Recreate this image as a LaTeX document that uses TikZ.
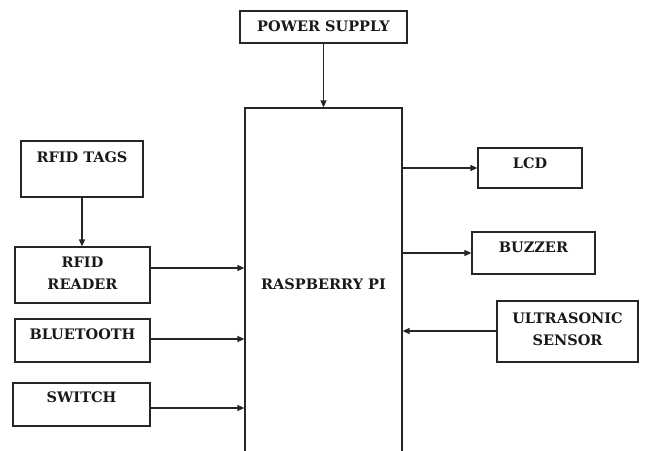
\documentclass[tikz,border=0pt]{standalone}
\usepackage{fontspec}
\setmainfont{DejaVu Serif}
\usetikzlibrary{arrows.meta, positioning, calc}

\begin{document}
\begin{tikzpicture}[x=1pt, y=-1pt,
    box/.style={draw=black!85, line width=1.2pt, inner sep=0pt},
    lbl/.style={font=\bfseries\fontsize{14.5}{22}\selectfont, align=center, text=black!90},
    arr/.style={draw=black!85, line width=1.3pt, -{Triangle[length=7pt, width=6pt]}}]
    \useasboundingbox (0,0) rectangle (645,450);
    \clip (0,0) rectangle (645,450);
    % Blok: {nama}{cx}{cy}{lebar}{tinggi}
    \foreach \nm/\cx/\cy/\w/\h in {
        pwr/323.5/27/167/32,
        tags/82/169/122/56,
        reader/82.5/275/135/56,
        bt/82.5/340.5/135/43,
        sw/81.5/404.5/137/43,
        lcd/530/168/104/40,
        buz/533.5/253/123/42,
        ultra/567.5/331.5/141/61
    } {
        \node[box, minimum width=\w pt, minimum height=\h pt] (\nm) at (\cx,\cy) {};
    }
    % Raspberry Pi (terpotong di bawah)
    \node[box, lbl, minimum width=157pt, minimum height=352pt] (pi) at (323.5,284) {RASPBERRY PI};
    % Teks blok
    \node[lbl] (pwr-t) at ($(pwr.north)+(0,16)$) {POWER SUPPLY};
    \node[lbl] (tags-t) at ($(tags.north)+(0,17)$) {RFID TAGS};
    \node[lbl] (reader-t) at ($(reader.north)+(0,27)$) {RFID\\READER};
    \node[lbl] (bt-t) at ($(bt.north)+(0,16)$) {BLUETOOTH};
    \node[lbl] (sw-t) at ($(sw.north)+(0,15)$) {SWITCH};
    \node[lbl] (lcd-t) at ($(lcd.north)+(0,16)$) {LCD};
    \node[lbl] (buz-t) at ($(buz.north)+(0,16)$) {BUZZER};
    \node[lbl] (ultra-t) at ($(ultra.north)+(0,28.5)$) {ULTRASONIC\\SENSOR};
    % Panah
    \coordinate (rdr-out) at ($(reader.east)+(0,-7)$);
    \coordinate (bt-out) at ($(bt.east)+(0,-1.5)$);
    \coordinate (sw-out) at ($(sw.east)+(0,3.5)$);
    \coordinate (ultra-out) at ($(ultra.west)+(0,-0.5)$);
    \draw[arr] (pwr.south) -- (pi.north);
    \draw[arr] (tags.south) -- (tags.south |- reader.north);
    \draw[arr] (rdr-out) -- (rdr-out -| pi.west);
    \draw[arr] (bt-out) -- (bt-out -| pi.west);
    \draw[arr] (sw-out) -- (sw-out -| pi.west);
    \draw[arr] (pi.east |- lcd.west) -- (lcd.west);
    \draw[arr] (pi.east |- buz.west) -- (buz.west);
    \draw[arr] (ultra-out) -- (ultra-out -| pi.east);
\end{tikzpicture}
\end{document}
